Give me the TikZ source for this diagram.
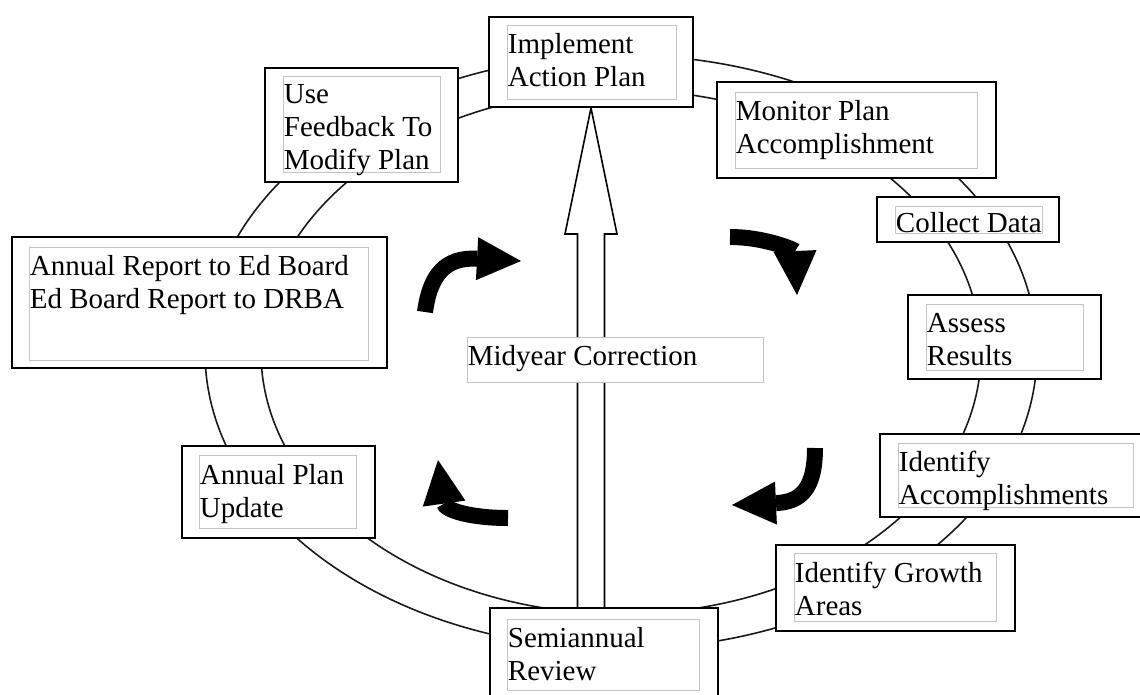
\documentclass[tikz,border=0pt]{standalone}
\usepackage{fontspec}
\setmainfont{Liberation Serif}
\usepackage{tikz}
\usetikzlibrary{arrows.meta, positioning, fit, shadows, backgrounds}
\definecolor{framegray}{RGB}{196,196,196}
\definecolor{ringblack}{RGB}{25,25,25}

\begin{document}
\begin{tikzpicture}[
    x=0.02cm, y=-0.02cm,
    ring/.style={draw=ringblack, line width=0.9pt},
    stepbox/.style={draw=black, fill=white, line width=1.1pt, inner sep=0pt,
        drop shadow={shadow xshift=0.7pt, shadow yshift=-0.7pt, opacity=1, fill=black}},
    textframe/.style={draw=framegray, fill=white, line width=0.5pt, inner sep=0pt},
    steptext/.style={font=\fontsize{16.5pt}{18.8pt}\selectfont, align=left, inner sep=0pt, anchor=north west},
    hollowarrow/.style={draw=black, fill=white, line width=0.9pt, line join=miter},
    turnarrow/.style={draw=black, line width=0.32cm, -{Triangle[length=0.88cm, width=0.86cm, line width=0pt]}}
]
    \useasboundingbox (0,0) rectangle (1140,694);

    \node[stepbox, fit={(489,17) (693,107)}] (impl) {};
    \node[textframe, fit={(507,25) (676,99)}] (impl-f) {};
    \node[steptext] at ([shift={(1,8)}]impl-f.north west) {Implement\\Action Plan};

    \node[stepbox, fit={(265,68) (458,182)}] (feedback) {};
    \node[textframe, fit={(283,76) (440,172)}] (feedback-f) {};
    \node[steptext] at ([shift={(1,9)}]feedback-f.north west) {Use\\Feedback To\\Modify Plan};

    \node[stepbox, fit={(12,237) (387,368)}] (annrep) {};
    \node[textframe, fit={(29,247) (368,360)}] (annrep-f) {};
    \node[steptext] at ([shift={(1,8)}]annrep-f.north west) {Annual Report to Ed Board\\Ed Board Report to DRBA};

    \node[stepbox, fit={(717,82) (996,178)}] (monitor) {};
    \node[textframe, fit={(735,92) (977,168)}] (monitor-f) {};
    \node[steptext] at ([shift={(1,8)}]monitor-f.north west) {Monitor Plan\\Accomplishment};

    \node[stepbox, fit={(877,197) (1059,242)}] (collect) {};
    \node[textframe, fit={(895,206) (1042,233)}] (collect-f) {};
    \node[steptext] at ([shift={(1,6)}]collect-f.north west) {Collect Data};

    \node[stepbox, fit={(908,295) (1101,379)}] (assess) {};
    \node[textframe, fit={(926,304) (1083,370)}] (assess-f) {};
    \node[steptext] at ([shift={(1,9)}]assess-f.north west) {Assess\\Results};

    \node[stepbox, fit={(880,434) (1146,517)}] (accompl) {};
    \node[textframe, fit={(898,443) (1133,507)}] (accompl-f) {};
    \node[steptext] at ([shift={(1,8)}]accompl-f.north west) {Identify\\Accomplishments};

    \node[stepbox, fit={(776,545) (1015,631)}] (growth) {};
    \node[textframe, fit={(794,553) (996,621)}] (growth-f) {};
    \node[steptext] at ([shift={(1,9)}]growth-f.north west) {Identify Growth\\Areas};

    \node[stepbox, fit={(490,608) (718,704)}] (semi) {};
    \node[textframe, fit={(507,619) (699,690)}] (semi-f) {};
    \node[steptext] at ([shift={(1,8)}]semi-f.north west) {Semiannual\\Review};

    \node[stepbox, fit={(182,446) (375,538)}] (plan) {};
    \node[textframe, fit={(199,455) (356,528)}] (plan-f) {};
    \node[steptext] at ([shift={(1,9)}]plan-f.north west) {Annual Plan\\Update};

    \node[textframe, fit={(467,337) (763,382)}] (midyear) {};
    \node[steptext] at ([shift={(1,8)}]midyear.north west) {Midyear Correction};

    \begin{scope}[on background layer]
        \draw[ring] (621,352) ellipse [x radius=416, y radius=297];
        \draw[ring] (621,352) ellipse [x radius=360, y radius=262];
        \draw[hollowarrow] (impl.south) -- ++(26,126) -- ++(-12.5,0) -- ++(0,380)
            -- ++(-27,0) -- ++(0,-380) -- ++(-12.5,0) -- cycle;
    \end{scope}

    \coordinate (turn1s) at (425,312);
    \coordinate (turn1e) at (521,261);
    \coordinate (turn2s) at (730,237);
    \coordinate (turn2e) at (797,295);
    \coordinate (turn3s) at (815,448);
    \coordinate (turn3e) at (732,505);
    \coordinate (turn4s) at (508,518);
    \coordinate (turn4e) at (438,460);

    \draw[turnarrow] (turn1s) .. controls (430,275) and (445,257) .. (turn1e);
    \draw[turnarrow] (turn2s) .. controls (765,237) and (795,250) .. (turn2e);
    \draw[turnarrow] (turn3s) .. controls (815,490) and (800,502) .. (turn3e);
    \draw[turnarrow] (turn4s) .. controls (470,518) and (445,510) .. (turn4e);
\end{tikzpicture}
\end{document}
